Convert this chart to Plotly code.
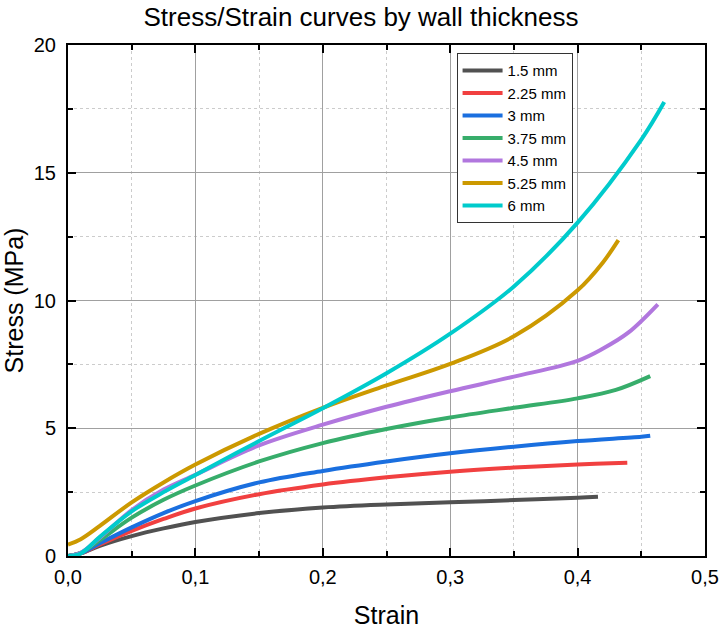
import plotly.graph_objects as go

# Stress/strain curves for specimens of increasing wall thickness
labels = ["1.5 mm", "2.25 mm", "3 mm", "3.75 mm", "4.5 mm", "5.25 mm", "6 mm"]
colors = ["#515151", "#F14040", "#1A6FDF", "#37AD6B", "#B177DE", "#CC9900", "#00CBCC"]

strain_15 = [0, 0.01, 0.025, 0.05, 0.075, 0.1, 0.15, 0.2, 0.25, 0.3, 0.35, 0.4, 0.416]
stress_15 = [0, 0.10, 0.40, 0.78, 1.08, 1.33, 1.68, 1.90, 2.02, 2.10, 2.19, 2.28, 2.32]

strain_225 = [0, 0.01, 0.025, 0.05, 0.075, 0.1, 0.15, 0.2, 0.25, 0.3, 0.35, 0.4, 0.42, 0.439]
stress_225 = [0, 0.10, 0.45, 0.98, 1.45, 1.86, 2.42, 2.80, 3.08, 3.30, 3.46, 3.58, 3.62, 3.65]

strain_3 = [0, 0.01, 0.025, 0.05, 0.075, 0.1, 0.15, 0.2, 0.25, 0.3, 0.35, 0.4, 0.45, 0.457]
stress_3 = [0, 0.11, 0.50, 1.12, 1.68, 2.15, 2.88, 3.33, 3.70, 4.02, 4.28, 4.50, 4.67, 4.71]

strain_375 = [0, 0.01, 0.025, 0.05, 0.075, 0.1, 0.15, 0.2, 0.25, 0.3, 0.35, 0.4, 0.43, 0.457]
stress_375 = [0, 0.12, 0.62, 1.50, 2.20, 2.76, 3.70, 4.42, 4.97, 5.42, 5.80, 6.17, 6.50, 7.04]

strain_45 = [0, 0.01, 0.025, 0.05, 0.075, 0.1, 0.15, 0.2, 0.25, 0.3, 0.35, 0.4, 0.42, 0.44, 0.463]
stress_45 = [0, 0.13, 0.72, 1.80, 2.60, 3.18, 4.33, 5.14, 5.84, 6.45, 7.02, 7.64, 8.12, 8.75, 9.85]

strain_525 = [0, 0.01, 0.025, 0.05, 0.075, 0.1, 0.15, 0.2, 0.25, 0.3, 0.35, 0.4, 0.42, 0.432]
stress_525 = [0.45, 0.66, 1.18, 2.10, 2.88, 3.58, 4.78, 5.80, 6.68, 7.52, 8.60, 10.40, 11.50, 12.36]

strain_6 = [0, 0.01, 0.025, 0.05, 0.075, 0.1, 0.15, 0.2, 0.25, 0.3, 0.35, 0.4, 0.45, 0.468]
stress_6 = [0, 0.10, 0.75, 1.75, 2.50, 3.17, 4.50, 5.78, 7.15, 8.70, 10.55, 13.05, 16.30, 17.77]

series = [
    (strain_15, stress_15),
    (strain_225, stress_225),
    (strain_3, stress_3),
    (strain_375, stress_375),
    (strain_45, stress_45),
    (strain_525, stress_525),
    (strain_6, stress_6),
]

x_ticks = [0.0, 0.1, 0.2, 0.3, 0.4, 0.5]
y_ticks = [0, 5, 10, 15, 20]

FONT = "Liberation Sans, Arial, sans-serif"

fig = go.Figure()
for (xs, ys), name, col in zip(series, labels, colors):
    fig.add_trace(go.Scatter(
        x=xs, y=ys, name=name, mode="lines",
        line=dict(color=col, width=4, shape="spline", smoothing=1.0),
    ))

axis_common = dict(
    showline=True, linecolor="black", linewidth=2, mirror="allticks",
    ticks="inside", ticklen=8, tickwidth=2, tickcolor="black",
    showgrid=True, gridcolor="#a0a0a0", gridwidth=1,
    zeroline=False, automargin=False,
    tickfont=dict(family=FONT, size=20, color="black"),
)

fig.update_xaxes(
    **axis_common,
    range=[0, 0.5], tickvals=x_ticks, tickformat=".1f",
    ticklabelstandoff=2,
    minor=dict(dtick=0.05, tick0=0, ticks="inside", ticklen=5, tickwidth=2,
               tickcolor="black", showgrid=True, gridcolor="#cccccc",
               griddash="dot", gridwidth=1),
    title=dict(text="Strain", font=dict(family=FONT, size=25, color="black"),
               standoff=20),
)
fig.update_yaxes(
    **axis_common,
    range=[0, 20], tickvals=y_ticks,
    ticklabelstandoff=6,
    minor=dict(dtick=2.5, tick0=0, ticks="inside", ticklen=5, tickwidth=2,
               tickcolor="black", showgrid=True, gridcolor="#cccccc",
               griddash="dot", gridwidth=1),
    title=dict(text="Stress (MPa)", font=dict(family=FONT, size=25, color="black"),
               standoff=8),
)

fig.update_layout(
    width=722, height=629,
    margin=dict(l=68, r=17, t=45, b=73),
    paper_bgcolor="white", plot_bgcolor="white",
    separators=",.",
    title=dict(text="Stress/Strain curves by wall thickness",
               x=0.5, xref="container", xanchor="center",
               y=0.973, yref="container", yanchor="middle",
               font=dict(family=FONT, size=26, color="black")),
    legend=dict(
        x=0.61, y=0.984, xanchor="left", yanchor="top",
        bgcolor="white", bordercolor="#333333", borderwidth=1,
        font=dict(family=FONT, size=15, color="black"),
        itemwidth=40, tracegroupgap=0,
    ),
    showlegend=True,
)

fig.write_html("out.html")
